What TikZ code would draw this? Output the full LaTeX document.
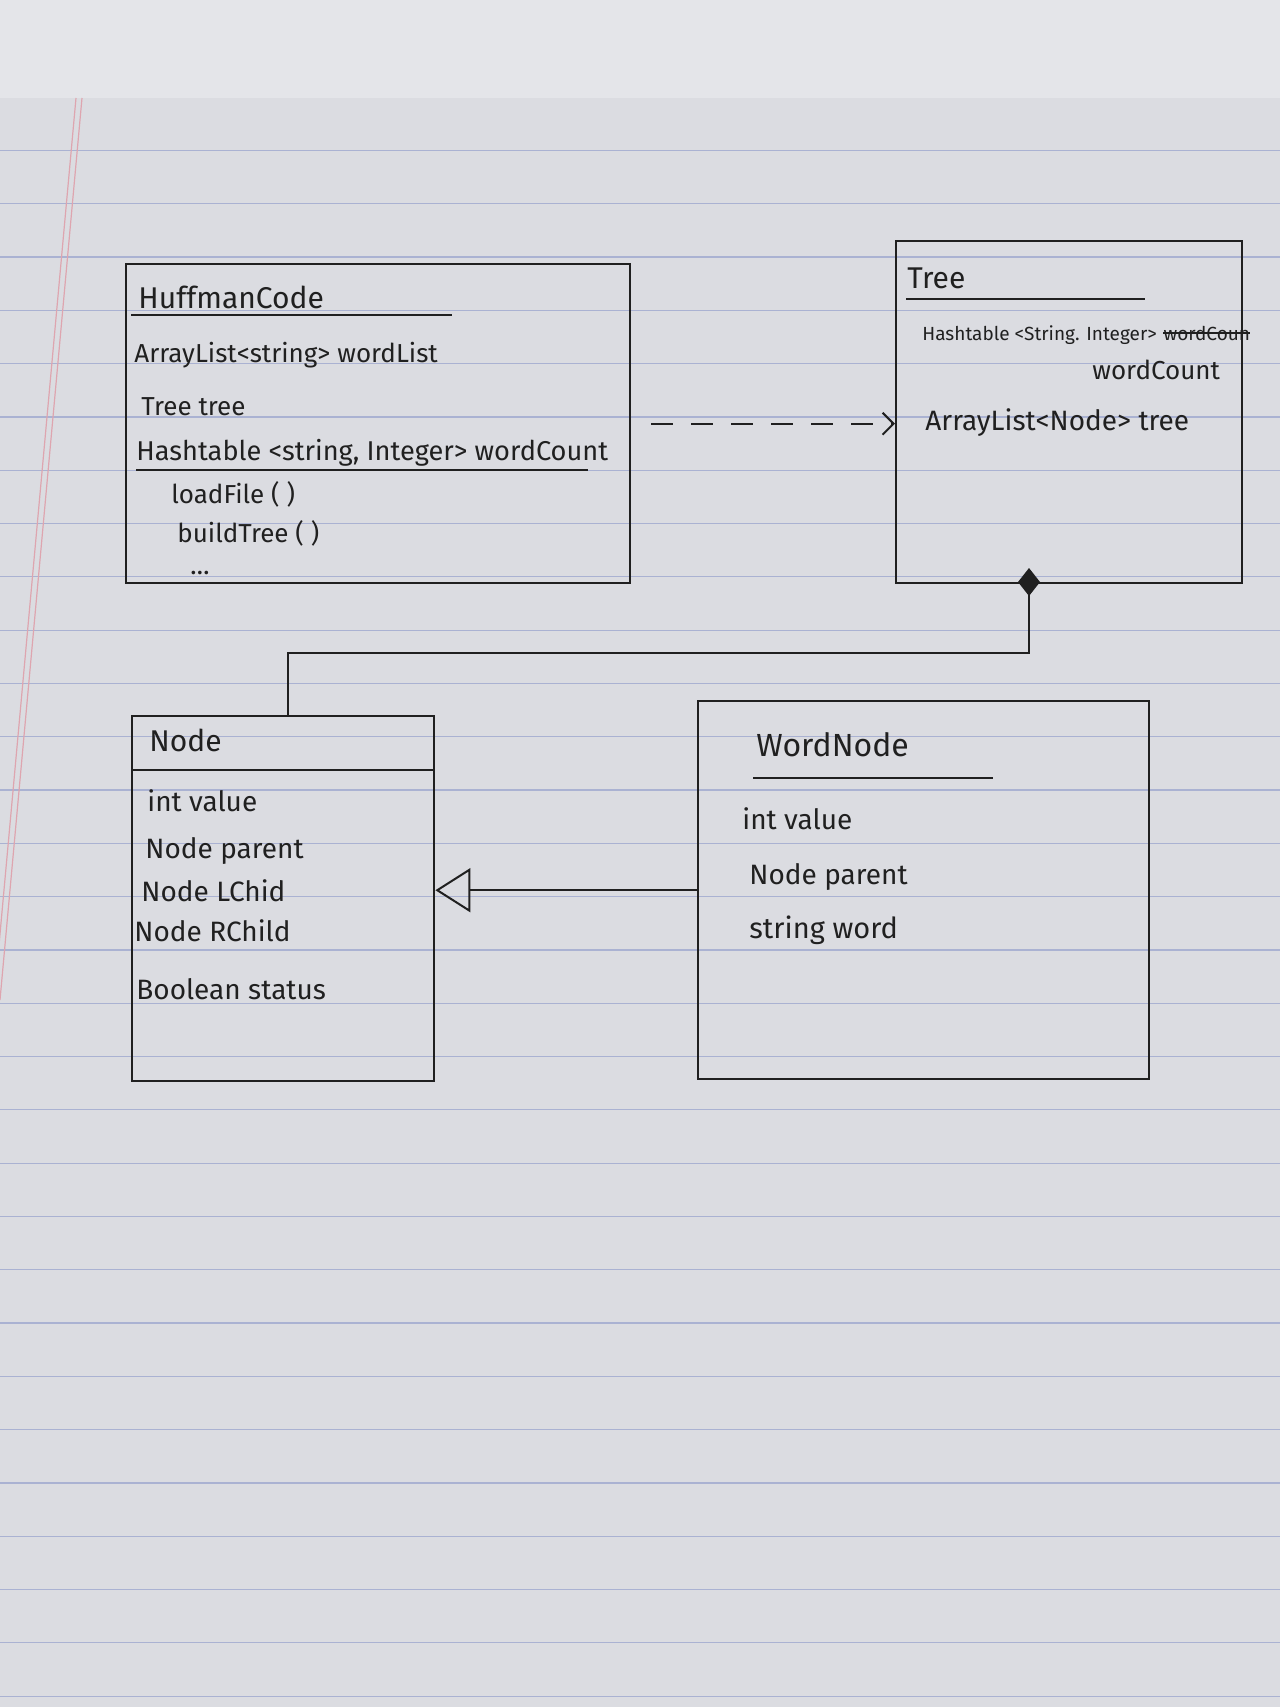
\documentclass[tikz,border=0pt]{standalone}
\usepackage{fontspec}
\setmainfont{Fira Sans}
\usepackage{tikz}
\usetikzlibrary{arrows.meta}
\usetikzlibrary{calc}
\usetikzlibrary{positioning}
\definecolor{paper}{RGB}{219,220,225}
\definecolor{fold}{RGB}{228,229,233}
\definecolor{ruleblue}{RGB}{170,178,210}
\definecolor{marginred}{RGB}{222,165,175}
\definecolor{ink}{RGB}{32,32,32}
\newcommand\tsize[1]{\fontsize{#1}{#1}\selectfont}
\tikzstyle{cls}=[draw=ink,line width=1.2pt,rectangle,inner sep=0pt,anchor=north west]
\tikzstyle{sep}=[draw=ink,line width=1.2pt]
\tikzstyle{attr}=[anchor=base west,inner sep=0pt,text=ink,font=\tsize{13}]
\tikzstyle{ctitle}=[attr,font=\tsize{15}]
\tikzstyle{dep}=[line width=1pt,draw=ink,dash pattern=on 11pt off 9pt,shorten <=10pt,-{Straight Barb[length=5.5pt,width=11pt]}]
\tikzstyle{gen}=[line width=1pt,draw=ink,-{Triangle[open,length=17.5pt,width=22pt]}]
\tikzstyle{comp}=[line width=1pt,draw=ink,{Diamond[fill=ink,length=14pt,width=11pt]}-]
\begin{document}
\begin{tikzpicture}[x=0.5pt,y=-0.5pt]
  \useasboundingbox (0,0) rectangle (1280,1707);
  % paper
  \fill[paper] (0,0) rectangle (1280,1707);
  \fill[fold] (0,0) rectangle (1280,98);
  \foreach \k in {-2,...,27}
    \draw[ruleblue,line width=0.6pt] (0,{257+53.3*\k}) -- (1280,{257+53.3*\k});
  \draw[marginred,line width=0.6pt] (82,98) -- (0,1000);
  \draw[marginred,line width=0.6pt] (76,98) -- (-6,1000);

  % classes
  \node[cls,minimum width=252pt,minimum height=159.5pt] (huff) at (125,263) {};
  \node[cls,minimum width=173pt,minimum height=171pt] (tree) at (895,240) {};
  \node[cls,minimum width=151pt,minimum height=182.5pt] (nodebox) at (131,715) {};
  \node[cls,minimum width=225.5pt,minimum height=189pt] (wordbox) at (697,700) {};

  % HuffmanCode
  \node[ctitle] (h0) at (138,308) {HuffmanCode};
  \draw[sep] (131,315) -- (452,315);
  \node[attr] (h1) at (134,362) {ArrayList<string> wordList};
  \node[attr] (h2) at (141,415) {Tree tree};
  \node[attr,font=\tsize{13.6}] (h3) at (136,460) {Hashtable <string, Integer> wordCount};
  \draw[sep] (136,470) -- (588,470);
  \node[attr] (h4) at (171,503) {loadFile ( )};
  \node[attr] (h5) at (177,542) {buildTree ( )};
  \node[attr] (h6) at (190,574) {\dots};

  % Tree
  \node[ctitle] (t0) at (907,288) {Tree};
  \draw[sep] (906,299) -- (1145,299);
  \node[attr,font=\tsize{9.5}] (t1) at (922,340) {Hashtable <String. Integer>};
  \node[attr,font=\tsize{9.5},right=3pt of t1.base east,anchor=base west] (t1x) {wordCoun};
  \draw[ink,line width=1pt] (t1x.west) -- (t1x.east);
  \node[attr] (t2) at (1092,379) {wordCount};
  \node[attr,font=\tsize{14}] (t3) at (925,430) {ArrayList<Node> tree};

  % Node
  \node[ctitle] (n0) at (149,751) {Node};
  \draw[sep] (nodebox.west |- 0,770) -- (nodebox.east |- 0,770);
  \node[attr,font=\tsize{14}] (n1) at (147,811) {int value};
  \node[attr,font=\tsize{14}] (n2) at (145,858) {Node parent};
  \node[attr,font=\tsize{14}] (n3) at (141,901) {Node LChid};
  \node[attr,font=\tsize{14}] (n4) at (134,941) {Node RChild};
  \node[attr,font=\tsize{14}] (n5) at (136,999) {Boolean status};

  % WordNode
  \node[ctitle,font=\tsize{16}] (w0) at (756,756) {WordNode};
  \draw[sep] (753,778) -- (993,778);
  \node[attr,font=\tsize{14}] (w1) at (742,829) {int value};
  \node[attr,font=\tsize{14}] (w2) at (749,884) {Node parent};
  \node[attr,font=\tsize{14.5}] (w3) at (749,938) {string word};

  % relations
  \draw[dep] (huff.east) -- (tree.west |- huff.east);
  \coordinate (agg) at (1029,568);
  \coordinate (bend) at (288,653);
  \draw[comp] (agg) |- (bend) -- (bend |- nodebox.north);
  \draw[gen] (wordbox.west) -- (nodebox.east |- wordbox.west);
\end{tikzpicture}
\end{document}
